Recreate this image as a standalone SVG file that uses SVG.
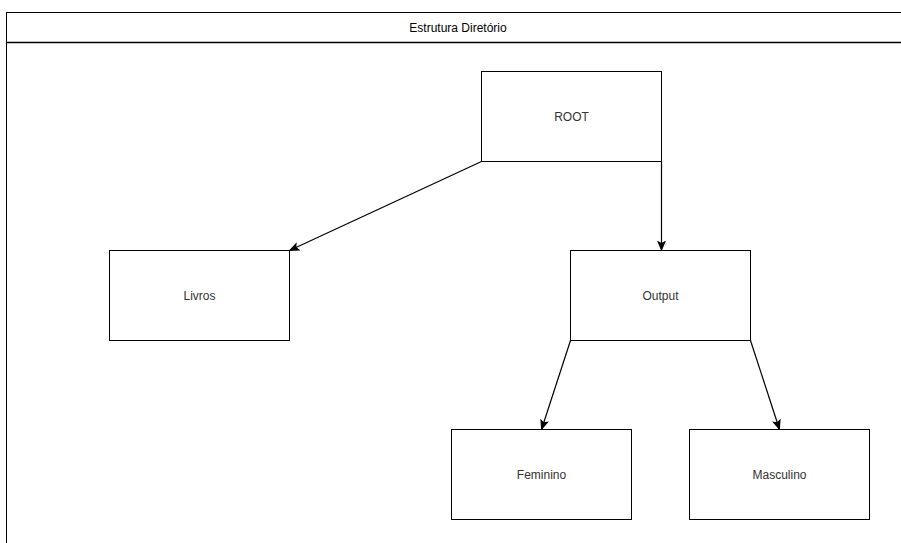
<svg xmlns="http://www.w3.org/2000/svg" width="901" height="543" viewBox="0 0 901 543">
  <style>
    .box { fill: #ffffff; stroke: #000000; stroke-width: 1; }
    .lbl { font-family: "Liberation Sans", Arial, sans-serif; font-size: 12px; fill: #333333; text-anchor: middle; dominant-baseline: central; }
    .title { font-family: "Liberation Sans", Arial, sans-serif; font-size: 12px; fill: #000000; text-anchor: middle; dominant-baseline: central; }
    .edge { fill: none; stroke: #000000; stroke-width: 1.2; }
  </style>
  <defs>
    <marker id="arrow" viewBox="0 0 11 9" refX="10" refY="4.5" markerWidth="11" markerHeight="9" markerUnits="userSpaceOnUse" orient="auto">
      <path d="M0,0 L11,4.5 L0,9 L2.5,4.5 Z" fill="#000000"/>
    </marker>
  </defs>
  <rect width="901" height="543" fill="#ffffff"/>

  <!-- container frame with header -->
  <g id="container">
    <rect class="box" x="6.5" y="12.5" width="930" height="560" stroke-width="1.5"/>
    <line x1="6.5" y1="42.5" x2="936.5" y2="42.5" stroke="#000000" stroke-width="1.5"/>
    <text class="title" x="458" y="27.5">Estrutura Diretório</text>
  </g>

  <!-- connectors -->
  <g id="connectors">
    <path class="edge" d="M481.5,161.5 L289.5,250.5" marker-end="url(#arrow)"/>
    <path class="edge" d="M661.5,161.5 L661.5,250.5" marker-end="url(#arrow)"/>
    <path class="edge" d="M570.5,340.5 L541.5,429.5" marker-end="url(#arrow)"/>
    <path class="edge" d="M750.5,340.5 L779.5,429.5" marker-end="url(#arrow)"/>
  </g>

  <g id="root">
    <rect class="box" x="481.5" y="71.5" width="180" height="90"/>
    <text class="lbl" x="571.5" y="116.5">ROOT</text>
  </g>
  <g id="livros">
    <rect class="box" x="109.5" y="250.5" width="180" height="90"/>
    <text class="lbl" x="199.5" y="295.5">Livros</text>
  </g>
  <g id="output">
    <rect class="box" x="570.5" y="250.5" width="180" height="90"/>
    <text class="lbl" x="660.5" y="295.5">Output</text>
  </g>
  <g id="feminino">
    <rect class="box" x="451.5" y="429.5" width="180" height="90"/>
    <text class="lbl" x="541.5" y="474.5">Feminino</text>
  </g>
  <g id="masculino">
    <rect class="box" x="689.5" y="429.5" width="180" height="90"/>
    <text class="lbl" x="779.5" y="474.5">Masculino</text>
  </g>
</svg>
